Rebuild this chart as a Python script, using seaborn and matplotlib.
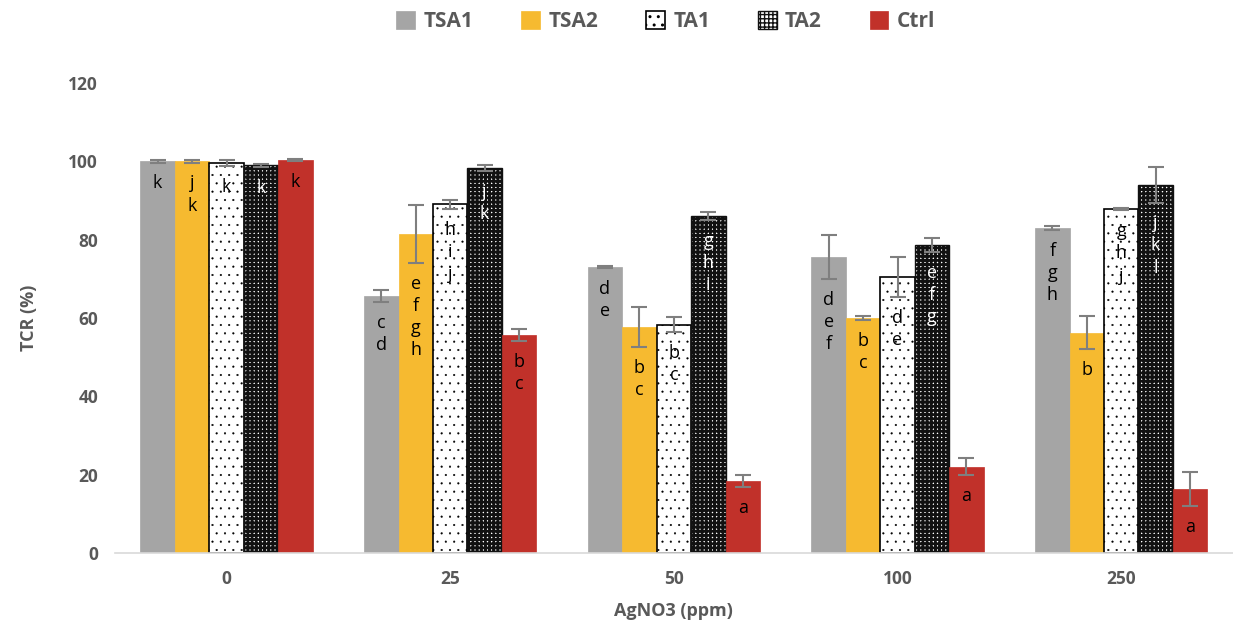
import matplotlib.pyplot as plt
import seaborn as sns
import pandas as pd

# data
doses = ['0', '25', '50', '100', '250']
treatments = ['TSA1', 'TSA2', 'TA1', 'TA2', 'Ctrl']

tsa1 = [100.0, 65.6, 73.0, 75.5, 83.0]
tsa2 = [100.0, 81.5, 57.6, 60.0, 56.3]
ta1 = [99.5, 89.0, 58.3, 70.4, 87.8]
ta2 = [99.0, 98.4, 86.0, 78.7, 94.0]
ctrl = [100.3, 55.6, 18.4, 22.0, 16.4]

tsa1_err = [0.3, 1.6, 0.3, 5.6, 0.6]
tsa2_err = [0.3, 7.4, 5.1, 0.6, 4.2]
ta1_err = [0.8, 1.2, 1.9, 5.1, 0.3]
ta2_err = [0.4, 0.8, 1.0, 1.8, 4.5]
ctrl_err = [0.3, 1.5, 1.6, 2.2, 4.4]

tsa1_letters = ['k', 'c\nd', 'd\ne', 'd\ne\nf', 'f\ng\nh']
tsa2_letters = ['j\nk', 'e\nf\ng\nh', 'b\nc', 'b\nc', 'b']
ta1_letters = ['k', 'h\ni\nj', 'b\nc', 'd\ne', 'g\nh\nj']
ta2_letters = ['k', 'j\nk', 'g\nh\ni', 'e\nf\ng', 'j\nk\nl']
ctrl_letters = ['k', 'b\nc', 'a', 'a', 'a']

means = [tsa1, tsa2, ta1, ta2, ctrl]
errs = [tsa1_err, tsa2_err, ta1_err, ta2_err, ctrl_err]
letters = [tsa1_letters, tsa2_letters, ta1_letters, ta2_letters, ctrl_letters]

rows = []
for t, vals in zip(treatments, means):
    for d, v in zip(doses, vals):
        rows.append({'dose': d, 'treatment': t, 'tcr': v})
df = pd.DataFrame(rows)

sns.set_style('white')
plt.rcParams['font.family'] = ['Open Sans', 'DejaVu Sans']

gray_txt = '#595959'
palette = {'TSA1': '#A5A5A5', 'TSA2': '#F6BA30', 'TA1': '#FFFFFF',
           'TA2': '#FFFFFF', 'Ctrl': '#C1312A'}

fig = plt.figure(figsize=(12.33, 6.2), dpi=100)
ax = fig.add_axes([0.093, 0.108, 0.907, 0.758])

sns.barplot(data=df, x='dose', y='tcr', hue='treatment', order=doses,
            hue_order=treatments, palette=palette, width=0.77,
            saturation=1, errorbar=None, legend=False, ax=ax)

styles = {
    'TSA1': dict(hatch=None, edgecolor='#A5A5A5', lw=0.5, hlw=1.0),
    'TSA2': dict(hatch=None, edgecolor='#F6BA30', lw=0.5, hlw=1.0),
    'TA1': dict(hatch='..', edgecolor='black', lw=1.2, hlw=0.3),
    'TA2': dict(hatch='++++', edgecolor='#111111', lw=1.0, hlw=2.0),
    'Ctrl': dict(hatch=None, edgecolor='#C1312A', lw=0.5, hlw=1.0),
}


def set_hlw(patch, w):
    if hasattr(patch, 'set_hatch_linewidth'):
        patch.set_hatch_linewidth(w)
    else:
        patch._hatch_linewidth = w


for i, (t, cont) in enumerate(zip(treatments, ax.containers)):
    st = styles[t]
    for j, bar in enumerate(cont):
        bar.set_edgecolor(st['edgecolor'])
        bar.set_linewidth(st['lw'])
        if st['hatch']:
            bar.set_hatch(st['hatch'])
            set_hlw(bar, st['hlw'])
        xc = bar.get_x() + bar.get_width() / 2
        h = bar.get_height()
        ax.errorbar(xc, h, yerr=errs[i][j], color='#7F7F7F', capsize=6,
                    elinewidth=1.5, capthick=1.5, zorder=5)
        txt_color = 'white' if t == 'TA2' else 'black'
        ax.text(xc, h - errs[i][j] - 3.0, letters[i][j], ha='center',
                va='top', fontsize=13, color=txt_color, linespacing=1.3,
                zorder=6)

ax.set_ylim(0, 120)
ax.set_yticks(range(0, 121, 20))
ax.set_xlim(-0.5, 4.5)
ax.tick_params(length=0, labelsize=12.5, labelcolor=gray_txt, pad=12)
for lbl in ax.get_xticklabels() + ax.get_yticklabels():
    lbl.set_fontweight('bold')
for s in ['top', 'right', 'left']:
    ax.spines[s].set_visible(False)
ax.spines['bottom'].set_color('#D9D9D9')
ax.spines['bottom'].set_linewidth(1.2)

ax.set_ylabel('TCR (%)', fontsize=13, fontweight='bold', color=gray_txt,
              labelpad=22)
ax.set_xlabel('AgNO3 (ppm)', fontsize=13, fontweight='bold', color=gray_txt,
              labelpad=10)

handles = [cont[0] for cont in ax.containers]
leg = fig.legend(handles, treatments, loc='upper center',
                 bbox_to_anchor=(0.54, 1.012), ncol=5, frameon=False,
                 columnspacing=2.3, handlelength=0.9, handleheight=0.9,
                 handletextpad=0.4, prop={'weight': 'bold', 'size': 15})
for txt in leg.get_texts():
    txt.set_color(gray_txt)

fig.savefig('out.png', dpi=100)
